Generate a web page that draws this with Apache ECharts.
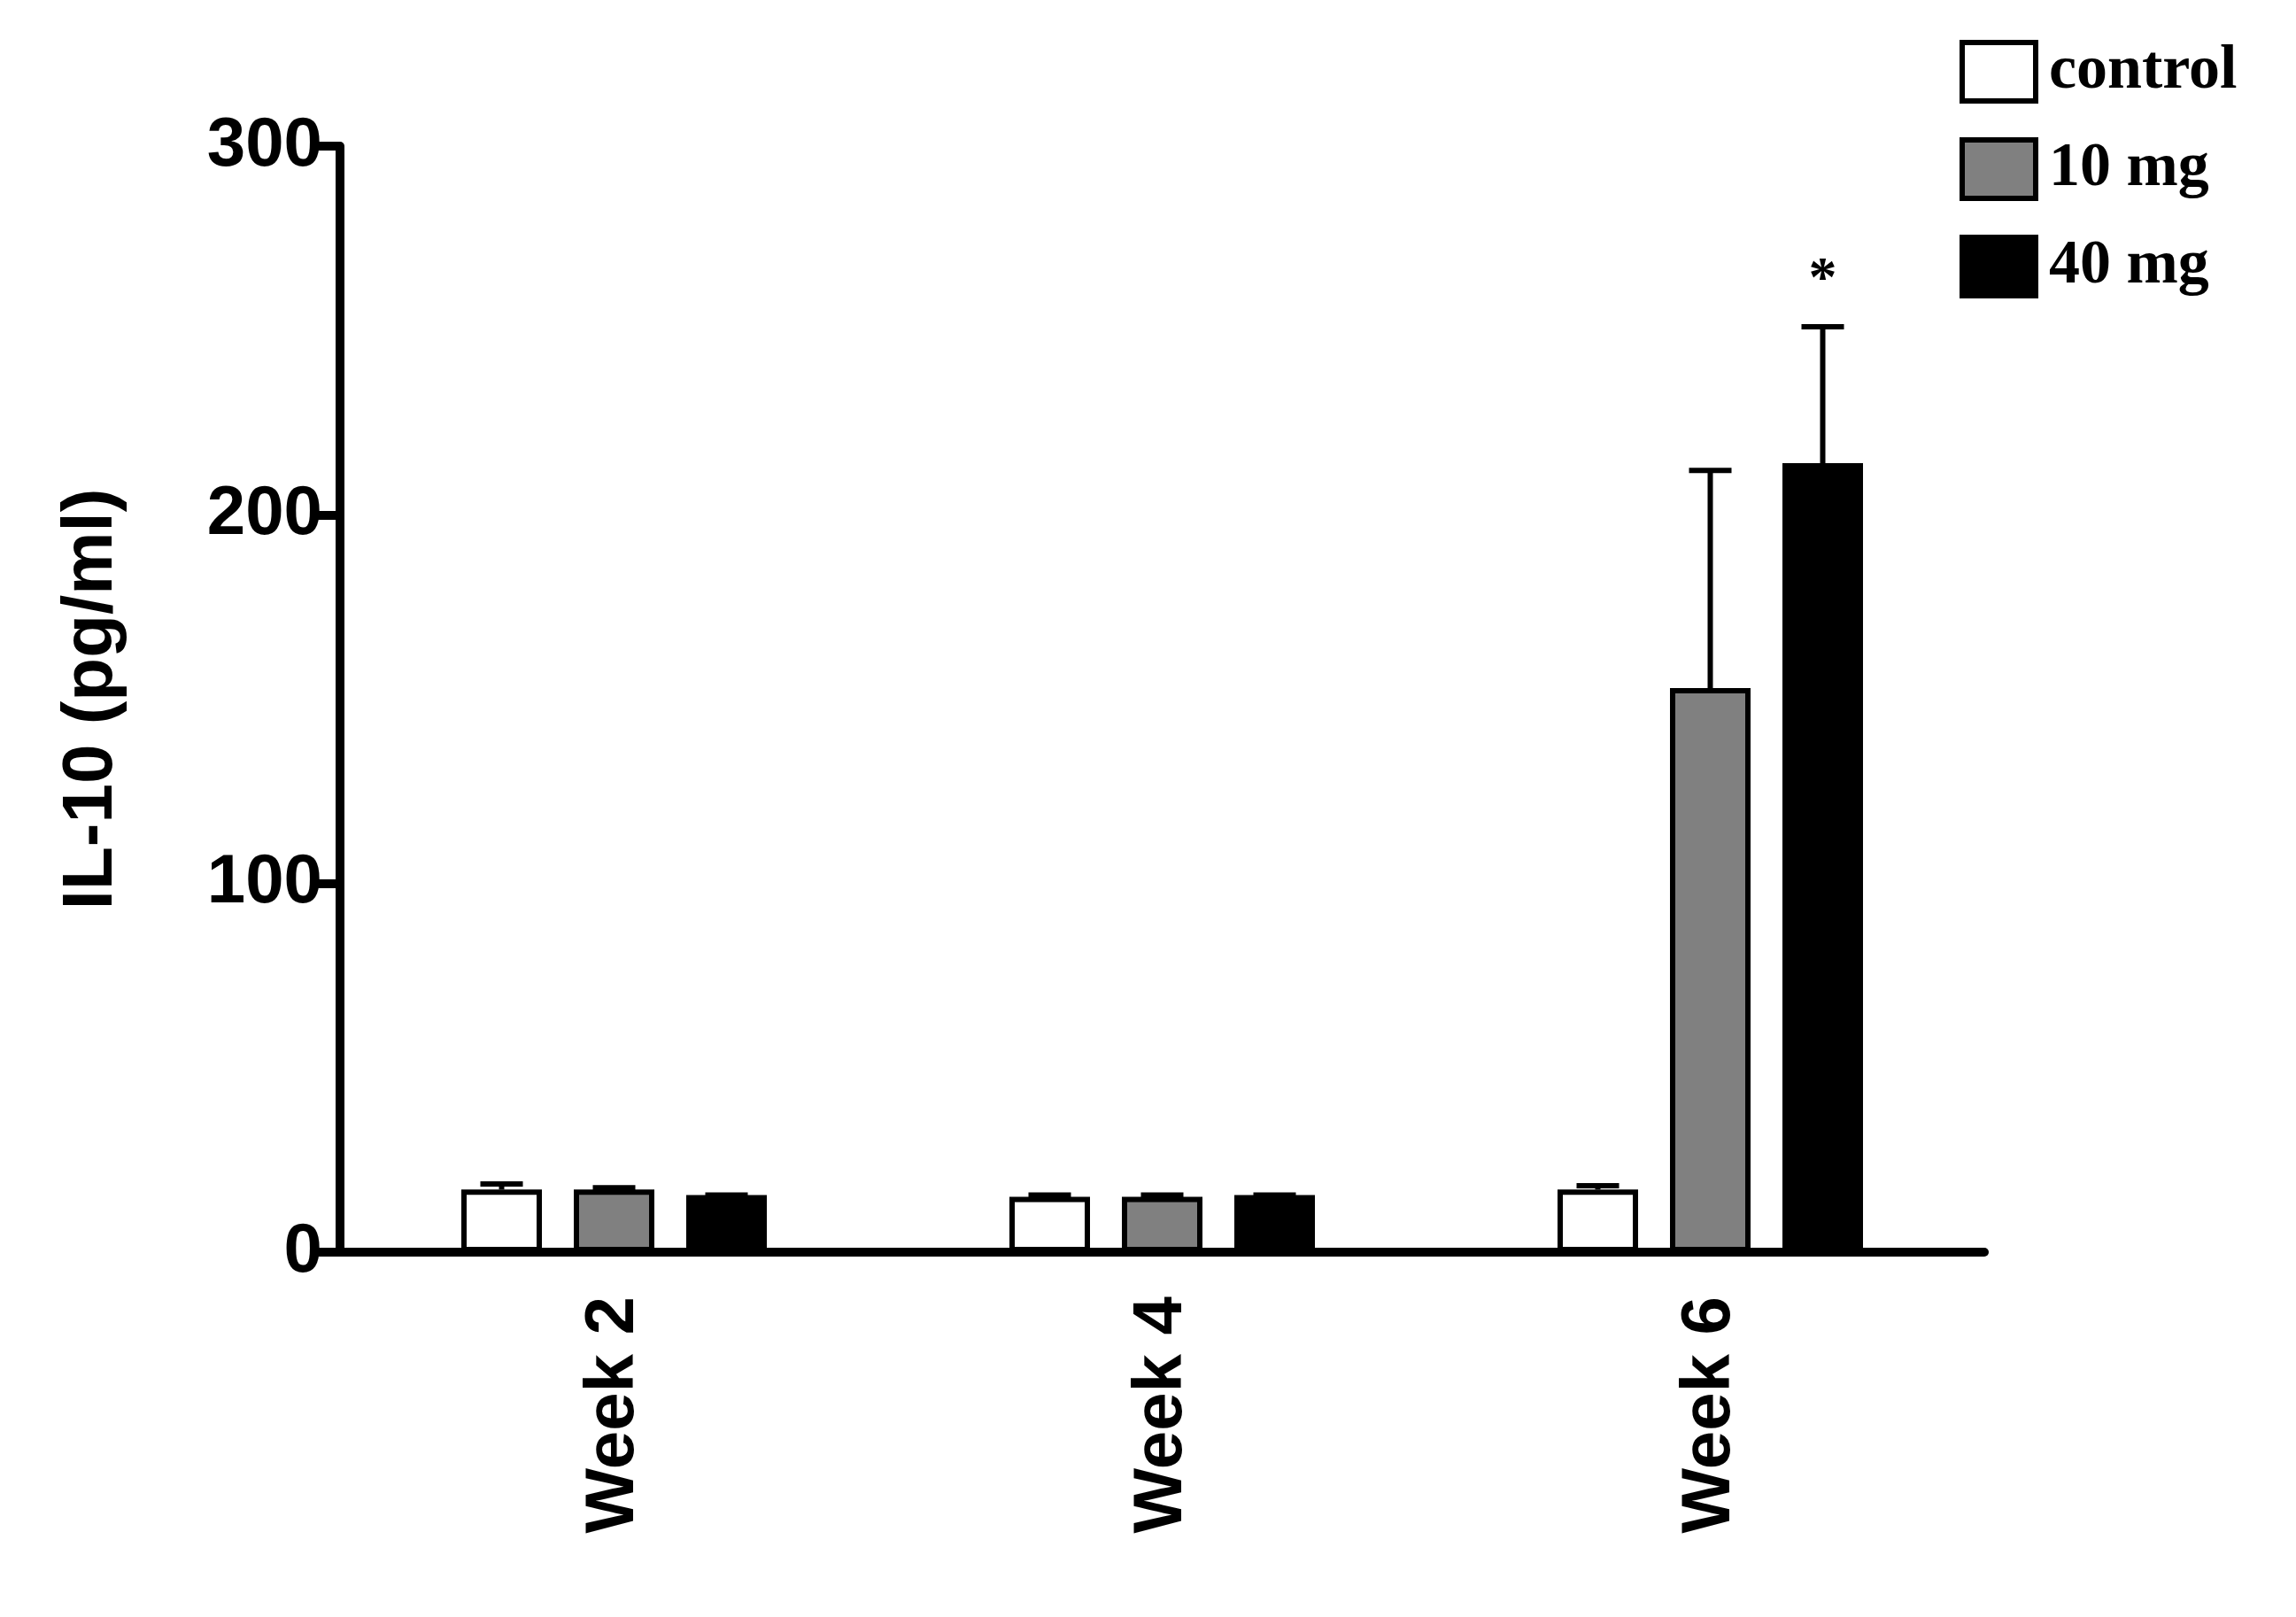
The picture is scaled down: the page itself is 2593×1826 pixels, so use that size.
<!DOCTYPE html>
<html>
<head>
<meta charset="utf-8">
<script src="https://cdn.jsdelivr.net/npm/echarts@6/dist/echarts.min.js"></script>
<style>html,body{margin:0;padding:0;background:#fff}#chart{width:2593px;height:1826px}</style>
</head>
<body>
<div id="chart"></div>
<script>
const categories = ['Week 2', 'Week 4', 'Week 6'];
const groups = ['control', '10 mg', '40 mg'];
const controlMean = [17, 15, 17];
const controlErr = [18.5, 15.5, 18];
const mg10Mean = [17, 15, 153];
const mg10Err = [17.5, 15.5, 212];
const mg40Mean = [15.5, 15.5, 214];
const mg40Err = [15.5, 15.5, 251];
const stars = ['', '', '*'];
const yTicks = [0, 100, 200, 300];

const fills = ['#ffffff', '#808080', '#000000'];
const means = [controlMean, mg10Mean, mg40Mean];
const errs = [controlErr, mg10Err, mg40Err];
const BAR_W = 91, GAP = 36;

const chart = echarts.init(document.getElementById('chart'));

const barSeries = groups.map((g, i) => ({
  name: g,
  type: 'bar',
  data: means[i],
  barWidth: BAR_W,
  barGap: (GAP / BAR_W * 100) + '%',
  itemStyle: { color: fills[i], borderColor: '#000', borderWidth: 6 }
}));

const errSeries = groups.map((g, i) => ({
  type: 'custom',
  z: 1,
  silent: true,
  data: categories.map((c, k) => [k, means[i][k], errs[i][k], stars[k]]),
  renderItem: (params, api) => {
    const off = (i - 1) * (BAR_W + GAP);
    const base = api.coord([api.value(0), api.value(1)]);
    const top = api.coord([api.value(0), api.value(2)]);
    const x = base[0] + off;
    const children = [
      { type: 'line', shape: { x1: x, y1: base[1], x2: x, y2: top[1] }, style: { stroke: '#000', lineWidth: 6 } },
      { type: 'line', shape: { x1: x - 24, y1: top[1], x2: x + 24, y2: top[1] }, style: { stroke: '#000', lineWidth: 6 } }
    ];
    if (i === 2 && api.value(3)) {
      children.push({ type: 'text', style: { text: '*', x: x, y: top[1] - 20, align: 'center', verticalAlign: 'bottom', font: 'bold 64px "Liberation Serif"', fill: '#000' } });
    }
    return { type: 'group', children };
  }
}));

chart.setOption({
  animation: false,
  grid: { left: 384, right: 352, top: 165, bottom: 412 },
  legend: {
    data: groups,
    orient: 'vertical',
    left: 2208,
    top: 40,
    itemWidth: 83,
    itemHeight: 66,
    itemGap: 38,
    icon: 'rect',
    itemStyle: { borderColor: '#000', borderWidth: 6 },
    textStyle: { fontFamily: 'Liberation Serif', fontWeight: 'bold', fontSize: 70, color: '#000', padding: [0, 0, 0, 10] }
  },
  xAxis: {
    type: 'category',
    data: categories,
    axisLine: { lineStyle: { color: '#000', width: 10 } },
    axisTick: { show: false },
    axisLabel: { rotate: 90, margin: 50, fontFamily: 'Liberation Sans', fontWeight: 'bold', fontSize: 78, color: '#000' }
  },
  yAxis: {
    type: 'value',
    min: 0, max: 300, interval: 100,
    name: 'IL-10 (pg/ml)',
    nameLocation: 'middle',
    nameGap: 240,
    nameRotate: 90,
    nameTextStyle: { fontFamily: 'Liberation Sans', fontWeight: 'bold', fontSize: 80, color: '#000' },
    splitLine: { show: false },
    axisLine: { show: true, lineStyle: { color: '#000', width: 10 } },
    axisTick: { show: true, inside: false, length: 33, lineStyle: { color: '#000', width: 10 } },
    axisLabel: { margin: 20, fontFamily: 'Liberation Sans', fontWeight: 'bold', fontSize: 78, color: '#000',
      formatter: v => yTicks.includes(v) ? String(v) : '' }
  },
  series: [...barSeries, ...errSeries]
});
</script>
</body>
</html>
